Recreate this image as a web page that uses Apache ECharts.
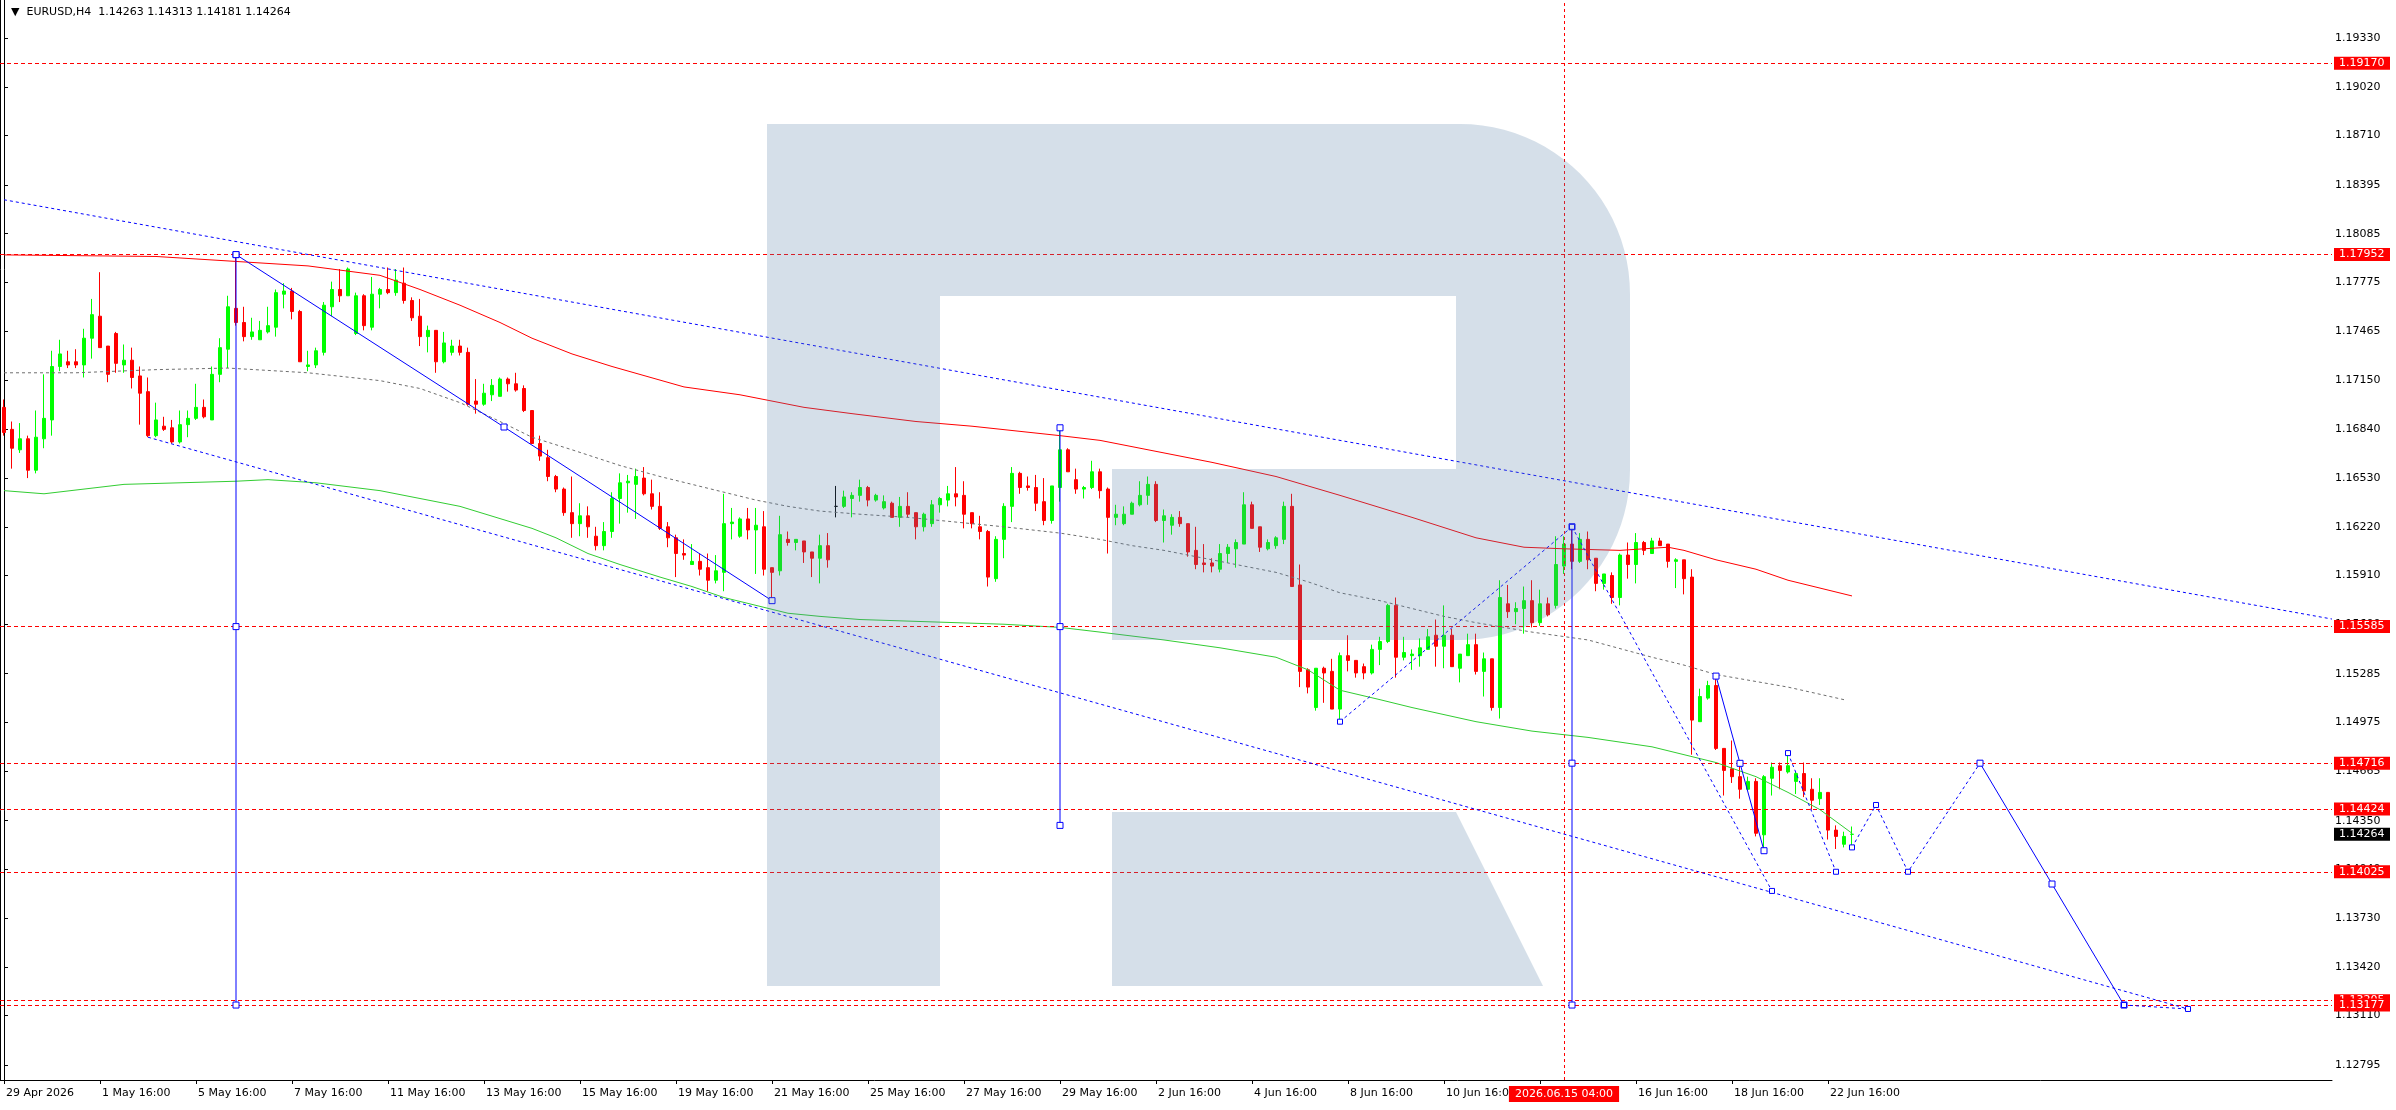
<!DOCTYPE html>
<html><head><meta charset="utf-8"><title>EURUSD H4</title>
<style>html,body{margin:0;padding:0;background:#fff}#chart{width:2396px;height:1110px}</style>
<script src="https://cdn.jsdelivr.net/npm/echarts@6.0.0/dist/echarts.min.js"></script>
</head><body><div id="chart"></div>
<script>
// ---------- data ----------
const titleText = '▼  EURUSD,H4  1.14263 1.14313 1.14181 1.14264';
// [open, close, low, high] per H4 bar, bar 0 = 29 Apr 2026 16:00
const ohlc = [
[1.1698,1.1682,1.1680,1.1703],[1.1684,1.1672,1.1659,1.1689],[1.1671,1.1678,1.1669,1.1688],[1.1678,1.1658,1.1653,1.1680],
[1.1658,1.1679,1.1656,1.1696],[1.1678,1.1691,1.1672,1.1719],[1.1690,1.1724,1.1680,1.1734],[1.1724,1.1732,1.1721,1.1741],
[1.1727,1.1725,1.1723,1.1734],[1.1727,1.1725,1.1723,1.1735],[1.1725,1.1742,1.1717,1.1748],[1.1742,1.1757,1.1729,1.1767],
[1.1756,1.1736,1.1736,1.1784],[1.1737,1.1719,1.1714,1.1737],[1.1745,1.1726,1.1720,1.1746],[1.1725,1.1728,1.1720,1.1738],
[1.1728,1.1717,1.1710,1.1736],[1.1718,1.1707,1.1687,1.1724],[1.1708,1.1680,1.1679,1.1717],[1.1680,1.1690,1.1679,1.1701],
[1.1686,1.1684,1.1683,1.1692],[1.1685,1.1676,1.1675,1.1690],[1.1676,1.1687,1.1675,1.1696],[1.1687,1.1691,1.1679,1.1696],
[1.1691,1.1698,1.1690,1.1713],[1.1698,1.1692,1.1691,1.1703],[1.1690,1.1719,1.1690,1.1724],[1.1719,1.1736,1.1714,1.1742],
[1.1735,1.1762,1.1723,1.1769],[1.1761,1.1752,1.1750,1.17952],[1.1752,1.1743,1.1740,1.1762],[1.1743,1.1746,1.1741,1.1755],
[1.1741,1.1747,1.1741,1.1753],[1.1746,1.1750,1.1745,1.1762],[1.1749,1.1771,1.1743,1.1773],[1.1770,1.1772,1.1761,1.1777],
[1.1772,1.1759,1.1754,1.1774],[1.1759,1.1727,1.1727,1.1760],[1.1724,1.1725,1.1721,1.1734],[1.1725,1.1734,1.1723,1.1736],
[1.1733,1.1763,1.1731,1.1765],[1.1762,1.1773,1.1756,1.1778],[1.1773,1.1769,1.1765,1.1786],[1.1769,1.1786,1.1769,1.1787],
[1.1745,1.1769,1.1744,1.1771],[1.1769,1.1750,1.1747,1.1770],[1.1749,1.1770,1.1747,1.1781],[1.1770,1.1773,1.1761,1.1774],
[1.1773,1.1771,1.1770,1.1787],[1.1771,1.1779,1.1769,1.1786],[1.1777,1.1766,1.1764,1.1787],[1.1766,1.1755,1.1753,1.1768],
[1.1756,1.1743,1.1737,1.1767],[1.1743,1.1747,1.1733,1.1750],[1.1747,1.1727,1.1720,1.1747],[1.1727,1.1739,1.1726,1.1746],
[1.1733,1.1737,1.1731,1.1741],[1.1737,1.1733,1.1731,1.1741],[1.1733,1.1700,1.1699,1.1736],[1.1702,1.1700,1.1694,1.1716],
[1.1700,1.1707,1.1699,1.1713],[1.1706,1.1712,1.1702,1.1716],[1.1705,1.1716,1.1705,1.1717],[1.1716,1.1713,1.1708,1.1717],
[1.1713,1.1709,1.1708,1.1720],[1.1710,1.1696,1.1695,1.1712],[1.1696,1.1675,1.1675,1.1696],[1.1675,1.1667,1.1664,1.1680],
[1.1666,1.1654,1.1651,1.1671],[1.1654,1.1646,1.1644,1.1655],[1.1646,1.1631,1.1629,1.1647],[1.1631,1.1624,1.1615,1.1654],
[1.1624,1.1629,1.1616,1.1637],[1.1629,1.1622,1.1615,1.1635],[1.1616,1.1610,1.1607,1.1622],[1.1610,1.1619,1.1607,1.1625],
[1.1619,1.1640,1.1615,1.1644],[1.1640,1.1650,1.1624,1.1656],[1.1650,1.1651,1.1631,1.1655],[1.1649,1.1654,1.1627,1.1659],
[1.1653,1.1643,1.1642,1.1660],[1.1643,1.1635,1.1633,1.1652],[1.1635,1.1621,1.1620,1.1644],[1.1622,1.1615,1.1609,1.1625],
[1.1615,1.1605,1.1590,1.1617],[1.1605,1.1604,1.1601,1.1614],[1.1598,1.1600,1.1598,1.1611],[1.1600,1.1595,1.1591,1.1605],
[1.1596,1.1588,1.1581,1.1605],[1.1588,1.1594,1.1586,1.1604],[1.1593,1.1624,1.1581,1.1643],[1.1624,1.1625,1.1614,1.1634],
[1.1616,1.1627,1.1615,1.1628],[1.1627,1.1620,1.1614,1.1634],[1.1620,1.1623,1.1592,1.1634],[1.1622,1.1595,1.1591,1.1632],
[1.1596,1.1593,1.1575,1.1596],[1.1594,1.1617,1.1591,1.1629],[1.1614,1.1612,1.1610,1.1619],[1.1612,1.1614,1.1607,1.1614],
[1.1613,1.1606,1.1599,1.1613],[1.1606,1.1602,1.1590,1.1606],[1.1602,1.1610,1.1586,1.1617],[1.1610,1.1601,1.1596,1.1618],
[1.1635,1.1635,1.1628,1.1648],[1.1635,1.1641,1.1634,1.1645],[1.1640,1.1642,1.1628,1.1644],[1.1642,1.1647,1.1638,1.1652],
[1.1647,1.1639,1.1635,1.1648],[1.1639,1.1642,1.1638,1.1643],[1.1634,1.1638,1.1633,1.1642],[1.1637,1.1628,1.1628,1.1638],
[1.1628,1.1635,1.1622,1.1641],[1.1635,1.1630,1.1628,1.1644],[1.1631,1.1622,1.1614,1.1631],[1.1622,1.1630,1.1619,1.1631],
[1.1624,1.1636,1.1622,1.1639],[1.1636,1.1640,1.1631,1.1641],[1.1639,1.1643,1.1635,1.1648],[1.1643,1.1641,1.1635,1.1660],
[1.1642,1.1630,1.1621,1.1651],[1.1631,1.1624,1.1621,1.1631],[1.1622,1.1619,1.1614,1.1629],[1.1619,1.1590,1.1584,1.1620],
[1.1589,1.1614,1.1587,1.1616],[1.1614,1.1635,1.1602,1.1637],[1.1635,1.1656,1.1625,1.1660],[1.1656,1.1647,1.1643,1.1657],
[1.1648,1.1647,1.1645,1.1654],[1.1647,1.1637,1.1632,1.1655],[1.1638,1.1626,1.1623,1.1653],[1.1626,1.1648,1.1624,1.1648],
[1.1647,1.1671,1.1638,1.1685],[1.1671,1.1657,1.1657,1.1672],[1.1652,1.1646,1.1643,1.1659],[1.1646,1.1647,1.1640,1.1648],
[1.1647,1.1657,1.1646,1.1664],[1.1657,1.1645,1.1640,1.1659],[1.1646,1.1628,1.1605,1.1647],[1.1628,1.1630,1.1623,1.1636],
[1.1624,1.1630,1.1623,1.1635],[1.1630,1.1637,1.1630,1.1638],[1.1636,1.1642,1.1635,1.1651],[1.1642,1.1649,1.1636,1.1654],
[1.1649,1.1626,1.1625,1.1651],[1.1626,1.1629,1.1612,1.1633],[1.1623,1.1628,1.1617,1.1630],[1.1628,1.1624,1.1622,1.1632],
[1.1624,1.1606,1.1603,1.1624],[1.1607,1.1598,1.1595,1.1622],[1.1599,1.1598,1.1593,1.1611],[1.1599,1.1597,1.1593,1.1602],
[1.1595,1.1605,1.1593,1.1611],[1.1605,1.1609,1.1599,1.1611],[1.1608,1.1612,1.1596,1.1614],[1.1611,1.1636,1.1611,1.1644],
[1.1636,1.1621,1.1621,1.1638],[1.1622,1.1609,1.1606,1.1622],[1.1608,1.1612,1.1607,1.1614],[1.1610,1.1615,1.1608,1.1616],
[1.1614,1.1635,1.1611,1.1638],[1.1635,1.1584,1.1584,1.1643],[1.1585,1.1530,1.1520,1.1598],[1.1531,1.1520,1.1516,1.1532],
[1.1507,1.1532,1.1505,1.1532],[1.1532,1.1529,1.1510,1.1533],[1.1530,1.1506,1.1506,1.1538],[1.1506,1.1540,1.1498,1.1542],
[1.1540,1.1537,1.1530,1.1553],[1.1537,1.1529,1.1526,1.1537],[1.1533,1.1529,1.1525,1.1535],[1.1529,1.1544,1.1528,1.1547],
[1.1544,1.1549,1.1534,1.1552],[1.1549,1.1572,1.1548,1.1573],[1.1572,1.1539,1.1526,1.1577],[1.1539,1.1542,1.1537,1.1552],
[1.1540,1.1541,1.1531,1.1544],[1.1540,1.1545,1.1533,1.1551],[1.1544,1.1552,1.1544,1.1557],[1.1553,1.1546,1.1533,1.1563],
[1.1546,1.1553,1.1532,1.1572],[1.1553,1.1533,1.1533,1.1557],[1.1532,1.1541,1.1523,1.1541],[1.1540,1.1547,1.1540,1.1554],
[1.1547,1.1530,1.1528,1.1554],[1.1530,1.1538,1.1514,1.1542],[1.1538,1.1507,1.1505,1.1538],[1.1507,1.1577,1.1500,1.1588],
[1.1573,1.1568,1.1564,1.1585],[1.1568,1.1570,1.1560,1.1574],[1.1570,1.1575,1.1554,1.1584],[1.1575,1.1561,1.1558,1.1588],
[1.1561,1.1573,1.1559,1.1582],[1.1573,1.1566,1.1565,1.1577],[1.1572,1.1598,1.1570,1.1616],[1.1597,1.1611,1.1592,1.1616],
[1.1611,1.1600,1.1595,1.1622],[1.1600,1.1614,1.1599,1.1618],[1.1614,1.1601,1.1595,1.1619],[1.1602,1.1586,1.1581,1.1602],
[1.1586,1.1592,1.1582,1.1592],[1.1591,1.1577,1.1573,1.1593],[1.1577,1.1604,1.1572,1.1605],[1.1604,1.1598,1.1589,1.1612],
[1.1598,1.1612,1.1586,1.1618],[1.1612,1.1607,1.1604,1.1613],[1.1605,1.1613,1.1605,1.1615],[1.1613,1.1610,1.1610,1.1615],
[1.1611,1.1600,1.1596,1.1611],[1.1600,1.1601,1.1583,1.1602],[1.1601,1.1589,1.1579,1.1601],[1.1590,1.1499,1.1477,1.1595],
[1.1498,1.1514,1.1498,1.1519],[1.1513,1.1521,1.1512,1.1524],[1.1521,1.1481,1.1480,1.1527],[1.1481,1.1467,1.1451,1.1481],
[1.1468,1.1463,1.1459,1.1486],[1.1463,1.1455,1.1449,1.1472],[1.1455,1.1460,1.1455,1.1463],[1.1460,1.1427,1.1425,1.1462],
[1.1426,1.1463,1.1416,1.1464],[1.1462,1.1469,1.1451,1.1472],[1.1470,1.1467,1.1455,1.1472],[1.1466,1.1470,1.1465,1.1479],
[1.1460,1.1465,1.1452,1.1466],[1.1465,1.1454,1.1450,1.1472],[1.1455,1.1448,1.1442,1.1462],[1.1449,1.1453,1.1445,1.1462],
[1.1453,1.1429,1.1423,1.1453],[1.1429,1.1425,1.1417,1.1432],[1.1420,1.1425,1.1418,1.1428],[1.14263,1.14264,1.14181,1.14313]
];

const xLabelIdx = [0,12,24,36,48,60,72,84,96,108,120,132,144,156,168,180,192,204,216,228];
const xLabelText = ['29 Apr 2026','1 May 16:00','5 May 16:00','7 May 16:00','11 May 16:00','13 May 16:00','15 May 16:00',
  '19 May 16:00','21 May 16:00','25 May 16:00','27 May 16:00','29 May 16:00','2 Jun 16:00','4 Jun 16:00','8 Jun 16:00',
  '10 Jun 16:00','12 Jun 16:00','16 Jun 16:00','18 Jun 16:00','22 Jun 16:00'];
const yTicks = [1.19330,1.19020,1.18710,1.18395,1.18085,1.17775,1.17465,1.17150,1.16840,1.16530,1.16220,1.15910,
  1.15600,1.15285,1.14975,1.14665,1.14350,1.14040,1.13730,1.13420,1.13110,1.12795];
const redLevels = [1.19170,1.17952,1.15585,1.14716,1.14424,1.14025,1.13205,1.13177];
const currentPrice = 1.14264;
const crossIdx = 195;
const crossLabel = '2026.06.15 04:00';

const maRed = [[0,1.1795],[19,1.1794],[38,1.1788],[47,1.1782],[52,1.1773],[57,1.1763],[62,1.1752],[66,1.1742],[71,1.1732],
  [76,1.1724],[85,1.1711],[92,1.1706],[100,1.1698],[106,1.1694],[114,1.1689],[121,1.1686],[132,1.1680],[137,1.1677],
  [145,1.1669],[151,1.1663],[159,1.1654],[167,1.1642],[176,1.1628],[184,1.1615],[190,1.1609],[195,1.1608],[202,1.1607],
  [208,1.1609],[210,1.1607],[214,1.1601],[219,1.1595],[223,1.1588],[231,1.1578]];
const maGreen = [[0,1.1645],[5,1.1643],[15,1.1649],[29,1.1651],[33,1.1652],[39,1.1650],[47,1.1645],[57,1.1635],[66,1.1621],
  [69,1.1615],[73,1.1605],[77,1.1598],[82,1.1590],[86,1.1584],[90,1.1577],[94,1.1572],[98,1.1567],[102,1.1565],[107,1.1563],
  [113,1.1562],[125,1.1560],[132,1.1558],[137,1.1555],[145,1.1550],[152,1.1545],[159,1.1539],[163,1.1531],[167,1.1518],
  [172,1.1512],[176,1.1507],[184,1.1498],[191,1.1492],[198,1.1488],[206,1.1482],[210,1.1477],[214,1.1472],[219,1.1463],
  [223,1.1453],[227,1.1442],[231,1.1427]];
const maGrey = [[0,1.1720],[9,1.1720],[19,1.1722],[28,1.1723],[38,1.1720],[47,1.1715],[52,1.1710],[57,1.1701],[62,1.1689],
  [66,1.1679],[71,1.1671],[74,1.1666],[77,1.1661],[82,1.1654],[86,1.1649],[90,1.1644],[94,1.1639],[98,1.1635],[102,1.1632],
  [107,1.1630],[113,1.1628],[125,1.1622],[132,1.1618],[137,1.1614],[141,1.1610],[145,1.1607],[150,1.1602],[159,1.1593],
  [163,1.1587],[167,1.1580],[172,1.1575],[176,1.1570],[180,1.1565],[184,1.1561],[191,1.1555],[198,1.1550],[206,1.1539],
  [210,1.1534],[214,1.1528],[223,1.1520],[230,1.1512]];

const channelUpper = [[0,1.18301],[291,1.15633]];
const channelLower = [[18,1.16790],[273,1.13152]];
const trendDown = [[29,1.17952],[62.5,1.16855],[96,1.15750]];
const vLine1 = [[29,1.17952],[29,1.15585],[29,1.13177]];
const vLine2 = [[132,1.16850],[132,1.15585],[132,1.14320]];
const vLine3 = [[196,1.16220],[196,1.14716],[196,1.13177]];
const shortDown = [[214,1.15270],[217,1.14715],[220,1.14159]];
const dotUp = [[167,1.14980],[196,1.16220]];
const dotDown1 = [[196,1.16220],[221,1.13903]];
const dotDown2 = [[223,1.14780],[229,1.14025]];
const forecastDot = [[231,1.14180],[234,1.14450],[238,1.14025],[247,1.14716]];
const forecastSolid = [[247,1.14716],[256,1.13947],[265,1.13177]];
const forecastTail = [[265,1.13177],[273,1.13152]];

// ---------- chart ----------
const FONT = 'DejaVu Sans';
const BLUE = '#0000ff';
const candleData = ohlc.map((d, i) => {
  const item = { value: [i, d[0], d[1], d[2], d[3]] };
  if (d[0] === d[1]) item.itemStyle = { color: '#000', color0: '#000', borderColor: '#000', borderColor0: '#000', borderColorDoji: '#000' };
  return item;
});

function levelLine(v, bg, showLine) {
  return {
    yAxis: v,
    lineStyle: { color: showLine ? '#ff0000' : 'rgba(0,0,0,0)', type: [4, 3], width: 1 },
    label: {
      show: true, position: 'end', distance: 2, formatter: () => v.toFixed(5),
      color: '#fff', backgroundColor: bg, fontFamily: FONT, fontSize: 11,
      padding: [1, 0, 0, 5], width: 51, lineHeight: 12, align: 'left'
    }
  };
}

function blueLine(data, dotted, sym) {
  return {
    type: 'line', data: data, z: 5, silent: true,
    lineStyle: { color: BLUE, width: 1, type: dotted ? [3, 3] : 'solid' },
    symbol: sym ? 'rect' : 'none', symbolSize: sym || 0, showSymbol: !!sym,
    itemStyle: { color: '#fff', borderColor: BLUE, borderWidth: 1 }
  };
}

// watermark outline (decoration, not data)
function arcPts(cx, cy, r, a0, a1) {
  const pts = [];
  for (let k = 0; k <= 24; k++) {
    const a = (a0 + (a1 - a0) * k / 24) * Math.PI / 180;
    pts.push([cx + r * Math.cos(a), cy + r * Math.sin(a)]);
  }
  return pts;
}
const wmBowl = [[767, 124]].concat(arcPts(1460, 294, 170, -90, 0), arcPts(1460, 470, 170, 0, 90),
  [[1112, 640], [1112, 469], [1456, 469], [1456, 296], [940, 296], [940, 986], [767, 986]]);
const wmLeg = [[1112, 812], [1456, 812], [1543, 986], [1112, 986]];

const chart = echarts.init(document.getElementById('chart'), null, { renderer: 'canvas' });
chart.setOption({
  animation: false,
  backgroundColor: '#fff',
  textStyle: { fontFamily: FONT },
  title: {
    text: titleText, left: 6, top: 2,
    textStyle: { fontFamily: FONT, fontSize: 11, fontWeight: 'normal', color: '#000' }
  },
  grid: { left: 0, right: 64, top: 0, bottom: 30, containLabel: false },
  xAxis: {
    type: 'value', min: -0.5, max: 291, splitLine: { show: false },
    axisLine: { show: true, onZero: false, lineStyle: { color: '#000', width: 1 } },
    axisTick: { show: true, length: 4, customValues: xLabelIdx, lineStyle: { color: '#000' } },
    axisLabel: {
      customValues: xLabelIdx, align: 'left', margin: 8, padding: [0, 0, 0, 2],
      color: '#000', fontFamily: FONT, fontSize: 11,
      formatter: (v) => { const k = xLabelIdx.indexOf(Math.round(v)); return k >= 0 ? xLabelText[k] : ''; }
    }
  },
  yAxis: [{
    type: 'value', position: 'right', min: 1.12700, max: 1.19572, scale: true,
    splitLine: { show: false },
    axisLine: { show: true, lineStyle: { color: '#000', width: 1 } },
    axisTick: { show: true, length: 4, customValues: yTicks, lineStyle: { color: '#000' } },
    axisLabel: {
      customValues: yTicks, margin: 3, color: '#000', fontFamily: FONT, fontSize: 11,
      formatter: (v) => v.toFixed(5)
    }
  }, {
    type: 'value', position: 'left', min: 1.12700, max: 1.19572, scale: true,
    splitLine: { show: false }, axisTick: { show: false }, axisLabel: { show: false },
    axisLine: { show: true, lineStyle: { color: '#000', width: 1 } }
  }],
  series: [
    {
      type: 'candlestick', data: candleData, barWidth: 4, clip: false, z: 2,
      itemStyle: { color: '#00ff00', color0: '#ff0000', borderColor: '#00ff00', borderColor0: '#ff0000', borderWidth: 1, borderColorDoji: '#000' },
      markLine: {
        symbol: ['none', 'none'], silent: true, animation: false, precision: 5,
        data: redLevels.map(v => levelLine(v, '#ff0000', true)).concat([
          levelLine(currentPrice, '#000000', false),
          {
            xAxis: crossIdx,
            lineStyle: { color: '#ff0000', type: [3, 3], width: 1 },
            label: {
              show: true, position: 'start', distance: 6, formatter: () => crossLabel,
              color: '#fff', backgroundColor: '#ff0000', fontFamily: FONT, fontSize: 11,
              padding: [2, 6, 1, 6], lineHeight: 13
            }
          }
        ])
      }
    },
    { type: 'line', data: maRed, z: 3, symbol: 'none', silent: true, lineStyle: { color: '#ff0000', width: 1 } },
    { type: 'line', data: maGreen, z: 3, symbol: 'none', silent: true, lineStyle: { color: '#32cd32', width: 1 } },
    { type: 'line', data: maGrey, z: 3, symbol: 'none', silent: true, lineStyle: { color: '#6e6e6e', width: 1, type: [3, 3] } },
    blueLine(channelUpper, true, 0),
    blueLine(channelLower, true, 0),
    blueLine(trendDown, false, 6),
    blueLine(vLine1, false, 6),
    blueLine(vLine2, false, 6),
    blueLine(vLine3, false, 6),
    blueLine(shortDown, false, 6),
    blueLine(dotUp, true, 5),
    blueLine(dotDown1, true, 5),
    blueLine(dotDown2, true, 5),
    blueLine(forecastDot, true, 5),
    blueLine(forecastSolid, false, 6),
    blueLine(forecastTail, true, 5)
  ],
  graphic: {
    elements: [
      { type: 'polygon', z: 100, silent: true, shape: { points: wmBowl }, style: { fill: 'rgba(88,128,168,0.25)' } },
      { type: 'polygon', z: 100, silent: true, shape: { points: wmLeg }, style: { fill: 'rgba(88,128,168,0.25)' } }
    ]
  }
});
</script>
</body></html>
